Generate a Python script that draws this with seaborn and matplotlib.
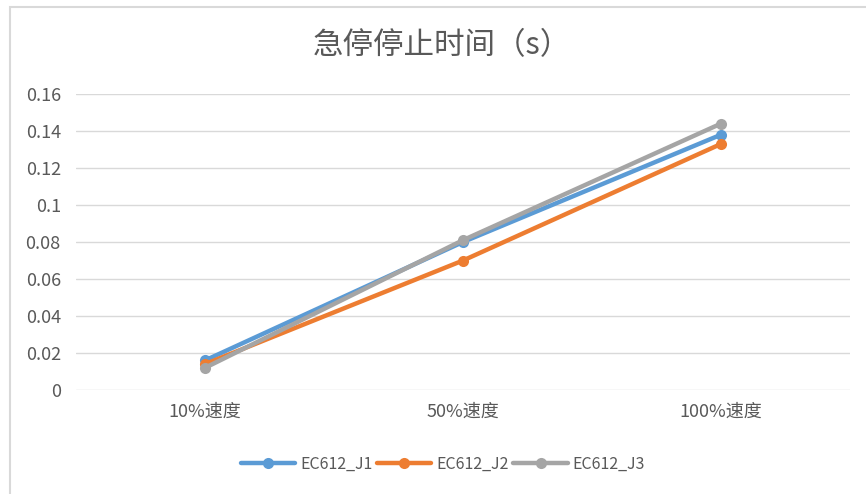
import pandas as pd
import matplotlib.pyplot as plt
import seaborn as sns
from matplotlib.patches import Rectangle

# values
speeds = ["10%速度", "50%速度", "100%速度"]
ec612_j1 = [0.016, 0.080, 0.138]
ec612_j2 = [0.014, 0.070, 0.133]
ec612_j3 = [0.012, 0.081, 0.144]
series_names = ["EC612_J1", "EC612_J2", "EC612_J3"]

palette = {
    "EC612_J1": "#5B9BD5",
    "EC612_J2": "#ED7D31",
    "EC612_J3": "#A5A5A5",
}

rows = []
for name, vals in zip(series_names, [ec612_j1, ec612_j2, ec612_j3]):
    for s, v in zip(speeds, vals):
        rows.append({"速度": s, "时间": v, "series": name})
df = pd.DataFrame(rows)

sns.set_style("white")
plt.rcParams['font.family'] = ['Noto Sans CJK SC', 'DejaVu Sans']

fig = plt.figure(figsize=(8.66, 4.94), dpi=100)
ax = fig.add_axes([0.0878, 0.2105, 0.8937, 0.5992])

sns.lineplot(
    data=df, x="速度", y="时间", hue="series", palette=palette,
    marker="o", markersize=8, markeredgewidth=0, linewidth=3.2,
    sort=False, ax=ax,
)

ax.set_xlim(-0.5, 2.5)
ax.set_ylim(0, 0.16)
ax.set_yticks([0, 0.02, 0.04, 0.06, 0.08, 0.1, 0.12, 0.14, 0.16])
ax.set_yticklabels(["0", "0.02", "0.04", "0.06", "0.08", "0.1", "0.12", "0.14", "0.16"])
ax.grid(axis="y", color="#d9d9d9", linewidth=1)
ax.set_axisbelow(True)
for sp in ax.spines.values():
    sp.set_visible(False)
ax.tick_params(axis="both", length=0, labelsize=13, colors="#595959")
ax.tick_params(axis="y", pad=11)
ax.tick_params(axis="x", pad=9)
ax.set_xlabel("")
ax.set_ylabel("")

fig.text(0.510, 0.907, "急停停止时间（s）", ha="center", va="center",
         fontsize=22, color="#595959")

ax.legend(loc="center", bbox_to_anchor=(0.474, -0.25), ncol=3, frameon=False,
          fontsize=11.5, labelcolor="#595959", handlelength=3.4,
          columnspacing=0.3, handletextpad=0.3, borderpad=0)

# chart area border (only left/top fall inside the crop)
fig.patches.append(Rectangle((9.5 / 866, -0.1), 1.2, 1 - 6.5 / 494 + 0.1,
                             transform=fig.transFigure, fill=False,
                             edgecolor="#d9d9d9", linewidth=1.5))

fig.savefig("out.png", dpi=100)
